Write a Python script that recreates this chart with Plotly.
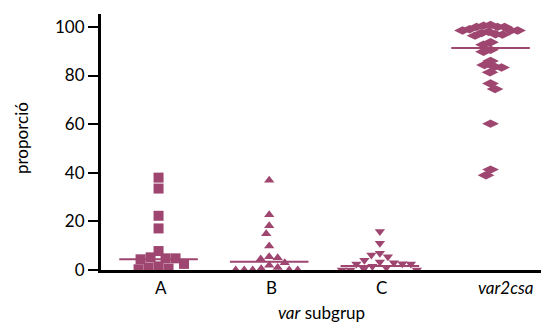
import numpy as np
import plotly.graph_objects as go

categories = ["A", "B", "C", "var2csa"]
vals_A = [38.0, 33.5, 22.3, 17.1, 7.8, 5.2, 4.8, 4.8, 4.4, 2.5, 1.5, 1.0, 0.6, 0.3]
vals_B = [36.9, 22.7, 18.2, 14.9, 9.9, 5.5, 5.0, 4.5, 3.0, 2.0, 1.0, 0.5, 0.0, 0.0, 0.0, 0.0, 0.0]
vals_C = [15.8, 11.0, 6.9, 6.2, 5.5, 4.0, 3.3, 3.0, 2.6, 2.5, 2.5, 1.5, 1.0, 0.5, 0.0, 0.0, 0.0]
vals_V = [100.5, 100.0, 100.8, 100.0, 100.0, 98.0, 99.0, 98.5, 98.5, 98.5, 97.5, 97.0, 96.4, 96.8,
          93.7, 92.7, 90.6, 89.8, 86.0, 84.3, 83.3, 83.6, 81.3, 76.7, 74.4, 60.2, 41.3, 39.0]
medians = [4.4, 3.4, 1.6, 91.3]
yticks = [0, 20, 40, 60, 80, 100]

COLOR = "#9e4670"
YPX = 2.43   # px per y unit
XPX = 110.7  # px per category
X0, X1 = -0.52, 3.456


def swarm(vals, d):
    vals = np.asarray(vals, float)
    order = np.argsort(-vals, kind="stable")
    xs = np.zeros(len(vals))
    placed = []
    for n, i in enumerate(order):
        y = vals[i] * YPX
        cands = [0.0]
        for k in range(1, 400):
            s = 1 if n % 2 == 0 else -1
            cands += [s * k * 0.5, -s * k * 0.5]
        for c in cands:
            if all((c - px_) ** 2 + (y - py_) ** 2 >= d * d for px_, py_ in placed):
                break
        placed.append((c, y))
        xs[i] = c / XPX
    return xs


groups = [
    (vals_A, "square", 10, 10.0),
    (vals_B, "triangle-up", 9, 8.5),
    (vals_C, "triangle-down", 9, 8.5),
    (vals_V, "diamond-wide", 12, 7.0),
]

fig = go.Figure()
for gi, (vals, sym, size, d) in enumerate(groups):
    offs = swarm(vals, d)
    fig.add_trace(go.Scatter(
        x=gi + offs, y=vals, mode="markers",
        marker=dict(symbol=sym, size=size, color=COLOR, line=dict(width=0)),
        showlegend=False, cliponaxis=True, hoverinfo="skip",
    ))
    fig.add_trace(go.Scatter(
        x=[gi - 0.355, gi + 0.355], y=[medians[gi]] * 2, mode="lines",
        line=dict(color=COLOR, width=2), showlegend=False, hoverinfo="skip",
    ))

FONT = "Lato, sans-serif"
PLOT_H = 256.0


def py(pix):
    # pixel row -> paper y (plot bottom at row 270, top at 14)
    return (270 - pix) / PLOT_H


def px(pix):
    return (pix - 101) / 440.0


annots = []
for gi, lab in enumerate(categories[:3]):
    annots.append(dict(x=gi, y=py(287), xref="x", yref="paper", text=lab, showarrow=False,
                       yanchor="middle", xshift=2,
                       font=dict(size=17, color="black", family=FONT)))
annots.append(dict(x=px(505), y=py(287), xref="paper", yref="paper",
                   text="<i>" + categories[3] + "</i>",
                   showarrow=False, xanchor="center", yanchor="middle",
                   font=dict(size=17, color="black", family=FONT)))
annots.append(dict(x=0.5, y=py(312), xref="paper", yref="paper", text="<i>var</i> subgrup",
                   showarrow=False, yanchor="middle",
                   font=dict(size=17, color="black", family=FONT)))
annots.append(dict(x=px(21), y=py(138), xref="paper", yref="paper", text="proporció",
                   showarrow=False, textangle=-90, xanchor="center", yanchor="middle",
                   font=dict(size=17, color="black", family=FONT)))

fig.update_layout(
    width=541, height=322,
    margin=dict(l=101, r=0, t=14, b=52),
    plot_bgcolor="white", paper_bgcolor="white",
    font=dict(family=FONT, size=17, color="black"),
    xaxis=dict(
        range=[X0, X1], showticklabels=False,
        showline=True, linecolor="black", linewidth=3, ticks="",
        showgrid=False, zeroline=False,
    ),
    yaxis=dict(
        range=[0, 105.3], tickvals=yticks,
        showline=True, linecolor="black", linewidth=3, ticks="outside",
        ticklen=10, tickwidth=2, tickcolor="black",
        showgrid=False, zeroline=False, tickfont=dict(size=17),
    ),
    annotations=annots,
)

fig.write_html(
    "out.html",
    config={"displayModeBar": False},
    post_script="document.body.style.margin='0';document.body.style.overflow='hidden';",
)
